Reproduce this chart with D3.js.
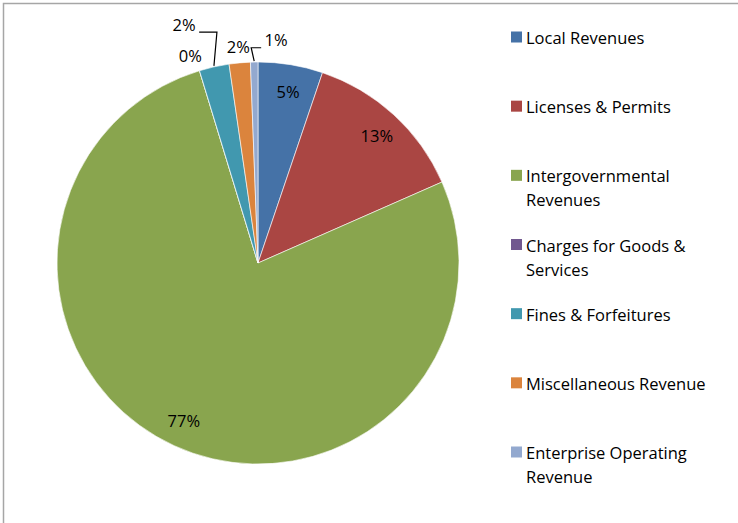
<!DOCTYPE html>
<html>
<head>
<meta charset="utf-8">
<script src="https://cdn.jsdelivr.net/npm/d3@7"></script>
<style>
  body { margin: 0; background: #fff; }
  text { font-family: "Open Sans", Lato, sans-serif; fill: #000; }
</style>
</head>
<body>
<div id="chart"></div>
<script>
(function () {

// revenue categories and their share (percent)
const categories = ["Local Revenues", "Licenses & Permits", "Intergovernmental Revenues",
  "Charges for Goods & Services", "Fines & Forfeitures", "Miscellaneous Revenue",
  "Enterprise Operating Revenue"];
const shares = [5.2, 13.2, 76.9, 0, 2.4, 1.7, 0.6];
const colors = ["#4572a7", "#aa4643", "#89a54e", "#71588f", "#4198af", "#db843d", "#93a9cf"];

// legend text gets wrapped the same way the original does
const legendLines = [["Local Revenues"], ["Licenses & Permits"], ["Intergovernmental", "Revenues"],
  ["Charges for Goods &", "Services"], ["Fines & Forfeitures"], ["Miscellaneous Revenue"],
  ["Enterprise Operating", "Revenue"]];

const width = 738, height = 523;
const cx = 258, cy = 263, radius = 201;

const svg = d3.select("#chart").append("svg")
    .attr("width", width)
    .attr("height", height);

// chart frame (only top/left edges land inside the picture)
svg.append("rect")
  .attr("x", 3.5).attr("y", 3.5)
  .attr("width", width + 10).attr("height", height + 10)
  .attr("fill", "none")
  .attr("stroke", "#a6a6a6")
  .attr("stroke-width", 1.5);

const data = categories.map((c, i) => ({name: c, value: shares[i], color: colors[i]}));

const pie = d3.pie().sort(null).value(d => d.value);
const arcs = pie(data);
const arc = d3.arc().innerRadius(0).outerRadius(radius);

const g = svg.append("g").attr("transform", "translate(" + cx + "," + cy + ")");

g.selectAll("path.slice")
  .data(arcs)
  .join("path")
  .attr("class", "slice")
  .attr("d", arc)
  .attr("fill", d => d.data.color)
  .attr("stroke", "#fff")
  .attr("stroke-width", 0.6);

// label placement: inside for big slices, outside for small ones,
// some small ones pushed further out with a leader line
const mid = d => (d.startAngle + d.endAngle) / 2;
const polar = (a, r) => [Math.sin(a) * r, -Math.cos(a) * r];
const tweak = {
  "Charges for Goods & Services": {da: -0.02, r: 218},
  "Fines & Forfeitures": {da: -0.08, r: 250, leader: true},
  "Miscellaneous Revenue": {da: 0, r: 217},
  "Enterprise Operating Revenue": {da: 0.1, r: 224, leader: true}
};

const labels = arcs.map(d => {
  const t = tweak[d.data.name];
  const a = mid(d);
  let pos = t ? polar(a + t.da, t.r) : polar(a + 0.01, 174);
  return {d: d, a: a, x: pos[0], y: pos[1], t: t};
});

// leader lines
labels.filter(l => l.t && l.t.leader).forEach(l => {
  const p0 = polar(l.a, radius + 1);
  const side = l.x < p0[0] ? -1 : 1;
  const yEl = l.y + 8;
  const xEnd = l.x - side * 15;
  g.append("path")
    .attr("d", d3.line()([[p0[0], p0[1]], [p0[0] - side * 3, yEl], [xEnd, yEl]]))
    .attr("fill", "none")
    .attr("stroke", "#000")
    .attr("stroke-width", 1.2);
});

g.selectAll("text.lbl")
  .data(labels)
  .join("text")
  .attr("class", "lbl")
  .attr("x", l => l.x)
  .attr("y", l => l.y)
  .attr("text-anchor", "middle")
  .attr("dominant-baseline", "central")
  .style("font-size", "16.5px")
  .text(l => Math.round(l.d.data.value) + "%");

// legend
const legend = svg.append("g").attr("transform", "translate(511,0)");
const rowY = d3.scalePoint().domain(categories).range([37, 452]);

const item = legend.selectAll("g.item")
  .data(data)
  .join("g")
  .attr("class", "item")
  .attr("transform", d => "translate(0," + rowY(d.name) + ")");

item.append("rect")
  .attr("x", 0).attr("y", -5.5)
  .attr("width", 11).attr("height", 11)
  .attr("fill", d => d.color);

item.append("text")
  .attr("x", 15)
  .attr("dominant-baseline", "central")
  .style("font-size", "16.5px")
  .selectAll("tspan")
  .data((d, i) => legendLines[i])
  .join("tspan")
  .attr("x", 15)
  .attr("dy", (s, j) => j === 0 ? 0 : 24)
  .text(s => s);

})()
</script>
</body>
</html>
